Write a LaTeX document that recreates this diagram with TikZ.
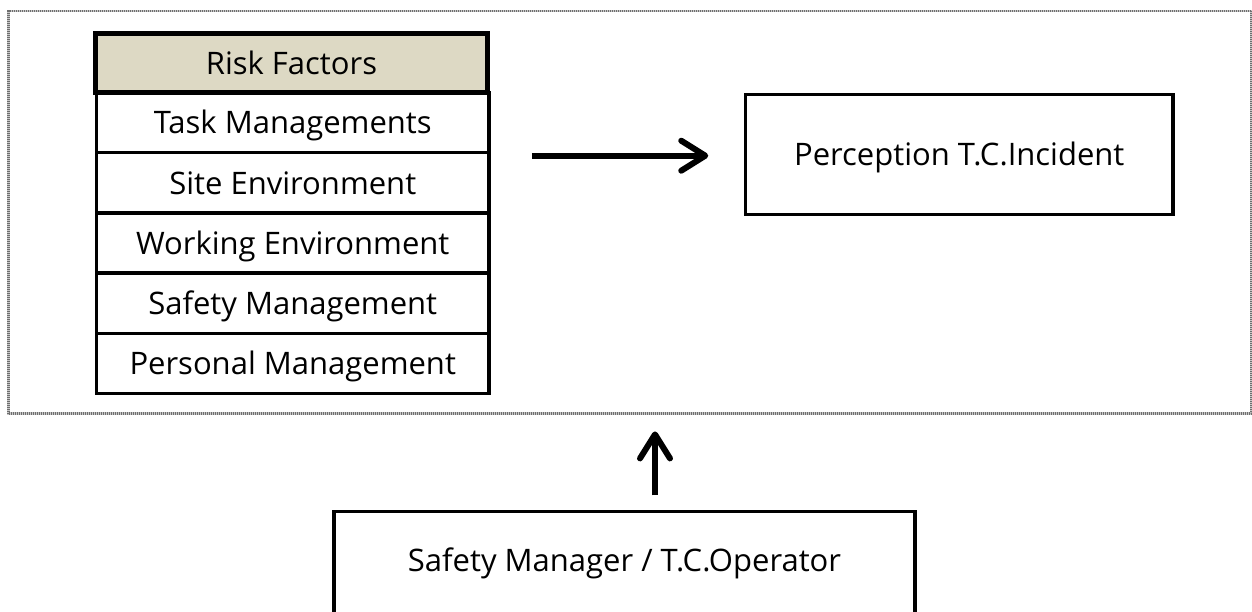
\documentclass[tikz,border=0pt]{standalone}
\usepackage{fontspec}
\setmainfont{Open Sans}
\usetikzlibrary{arrows.meta,calc}
\definecolor{headfill}{HTML}{DDD9C4}
\definecolor{framegray}{HTML}{6E6E6E}
\definecolor{framelight}{HTML}{C8C8C8}
\tikzset{
  txt/.style={font=\fontsize{31}{37}\selectfont, text height=22.5pt, text depth=0pt, inner sep=0pt},
  rowbox/.style={txt, draw=black, line width=3.5pt, minimum width=392.5pt, minimum height=60.2pt},
  headbox/.style={txt, draw=black, line width=5.5pt, fill=headfill, minimum width=392pt, minimum height=59pt},
  plainbox/.style={txt, draw=black, line width=3.5pt},
  framebox/.style={draw=framelight, line width=2.8pt, inner sep=0pt,
    postaction={draw=framegray, line width=2.8pt, dash pattern=on 1pt off 1pt}},
  arr/.style={line width=6pt, -{Straight Barb[length=24pt,width=30pt,round]}}
}
\begin{document}
\begin{tikzpicture}[x=1pt,y=-1pt]
\useasboundingbox (0,0) rectangle (1252,611);
\clip (0,0) rectangle (1252,611);
\node[framebox, minimum width=1242.8pt, minimum height=402.5pt] (frame) at (629.9,212.25) {};
\node[rowbox] (task) at (292.75,122.6) {Task Managements};
\node[rowbox] (site) at (292.75,182.8) {Site Environment};
\node[rowbox] (work) at (292.75,243.0) {Working Environment};
\node[rowbox] (safe) at (292.75,303.2) {Safety Management};
\node[rowbox] (pers) at (292.75,363.4) {Personal Management};
\node[headbox] (risk) at (291.5,63) {Risk Factors};
\node[plainbox, minimum width=427.5pt, minimum height=120pt] (perc) at (959.25,154.3) {Perception T.C.Incident};
\node[plainbox, minimum width=581pt, minimum height=140pt, text depth=43pt] (mgr) at (624.5,581.5) {Safety Manager / T.C.Operator};
\draw[arr] ($(perc.west -| task.east)+(41,1.4)$) -- ($(perc.west)+(-35.5,1.4)$);
\draw[arr] ($(mgr.north)+(30.5,-14.5)$) -- ($(frame.south)+(25.1,16.5)$);
\end{tikzpicture}
\end{document}
